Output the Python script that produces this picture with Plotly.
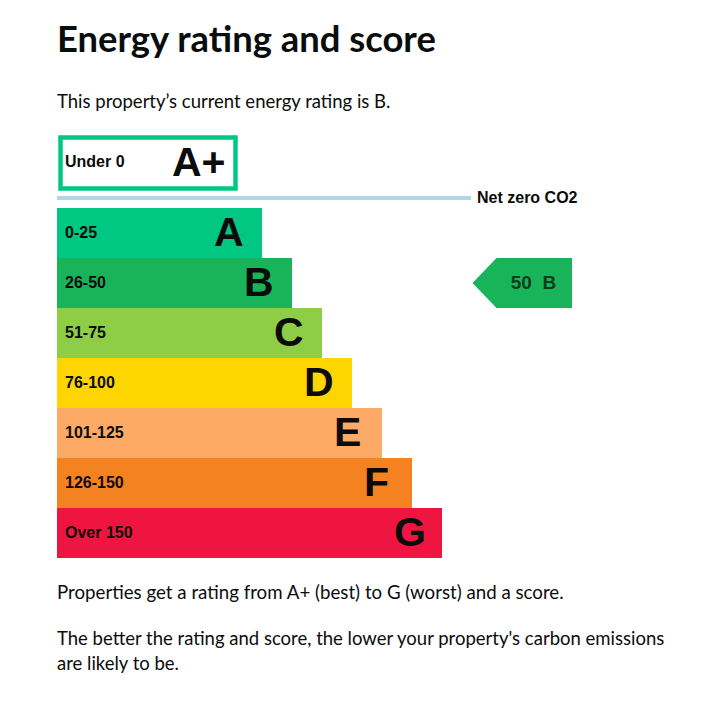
import plotly.graph_objects as go

bands = ["A", "B", "C", "D", "E", "F", "G"]
score_ranges = ["0-25", "26-50", "51-75", "76-100", "101-125", "126-150", "Over 150"]
bar_lengths = [205, 235, 265, 295, 325, 355, 385]
band_colors = ["#00c781", "#19b459", "#8dce46", "#ffd500", "#fcaa65", "#f58220", "#ee1540"]

top_band = "A+"
top_range = "Under 0"
top_length = 175
top_color = "#00c781"

current_score = 50
current_band = "B"
net_zero_length = 414

W, H = 715, 712
LEFT = 57
ROW_H = 50
ROW_A = 233  # pixel centre of the A row

rows = list(range(len(bands)))
top_row = (163 - ROW_A) / ROW_H
net_zero_row = (198 - ROW_A) / ROW_H
band_row = bands.index(current_band)
nudge = 3 / ROW_H  # big letters sit a little high otherwise
small_nudge = 1 / ROW_H

TITLE_FONT = "Lato"
DARK = "#0b0c0c"

fig = go.Figure()

fig.add_trace(go.Bar(
    y=rows, x=bar_lengths, orientation="h", width=1,
    marker_color=band_colors, marker_line_width=0,
))
fig.add_trace(go.Bar(
    y=[top_row], x=[top_length], base=3.5, orientation="h", width=51 / ROW_H,
    marker_color="white", marker_line_color=top_color, marker_line_width=4.5,
))
fig.add_trace(go.Scatter(
    x=[0, net_zero_length], y=[net_zero_row, net_zero_row], mode="lines",
    line=dict(color="#add8e6", width=4),
))

# score pointer next to its band
px0, px1, tip = 415.5, 515, 24
fig.add_trace(go.Scatter(
    x=[px0, px0 + tip, px1, px1, px0 + tip, px0],
    y=[band_row, band_row - 0.5, band_row - 0.5, band_row + 0.5, band_row + 0.5, band_row],
    mode="lines", fill="toself", fillcolor=band_colors[band_row],
    line=dict(width=0),
))

# band labels
fig.add_trace(go.Scatter(
    x=[8] * len(rows) + [8], y=[r + small_nudge for r in rows] + [top_row], mode="text",
    text=score_ranges + [top_range], textposition="middle right",
    textfont=dict(family="Liberation Sans", size=16, color="#0b0b0b", weight="bold"),
))
fig.add_trace(go.Scatter(
    x=[v - 48 for v in bar_lengths] + [115],
    y=[r + nudge for r in rows] + [top_row + nudge],
    mode="text", text=bands + [top_band], textposition="middle right",
    textfont=dict(family="Liberation Sans", size=41, color="#0b0b0b", weight="bold"),
))
fig.add_trace(go.Scatter(
    x=[px0 + 61], y=[band_row + small_nudge], mode="text",
    text=[f"{current_score}&nbsp;&nbsp;{current_band}"],
    textposition="middle center",
    textfont=dict(family="Liberation Sans", size=19, color="#0b3d1c", weight="bold"),
))
fig.add_trace(go.Scatter(
    x=[net_zero_length + 6], y=[net_zero_row + small_nudge], mode="text", text=["Net zero CO2"],
    textposition="middle right",
    textfont=dict(family="Liberation Sans", size=16, color="#0b0b0b", weight="bold"),
))


def page_text(text, y, size, bold=False):
    fig.add_annotation(
        x=LEFT / W, y=1 - y / H, xref="paper", yref="paper", text=text, showarrow=False,
        xanchor="left", yanchor="middle", align="left", xshift=-2,
        font=dict(family=TITLE_FONT, size=size, color=DARK, weight="bold" if bold else "normal"),
    )


page_text("Energy rating and score", 38, 36.4, True)
page_text("This property’s current energy rating is B.", 101, 18.5)
page_text("Properties get a rating from A+ (best) to G (worst) and a score.", 592, 18.7)
page_text("The better the rating and score, the lower your property's carbon emissions", 638, 18.5)
page_text("are likely to be.", 663, 18.5)

fig.update_xaxes(range=[-LEFT, W - LEFT], visible=False)
fig.update_yaxes(range=[(H - ROW_A) / ROW_H, -ROW_A / ROW_H], visible=False)
fig.update_layout(
    width=W, height=H, margin=dict(l=0, r=0, t=0, b=0), showlegend=False,
    plot_bgcolor="white", paper_bgcolor="white", barmode="overlay",
)
fig.write_html(
    "out.html",
    config={"displayModeBar": False},
    post_script="document.body.style.margin = '0';",
)
